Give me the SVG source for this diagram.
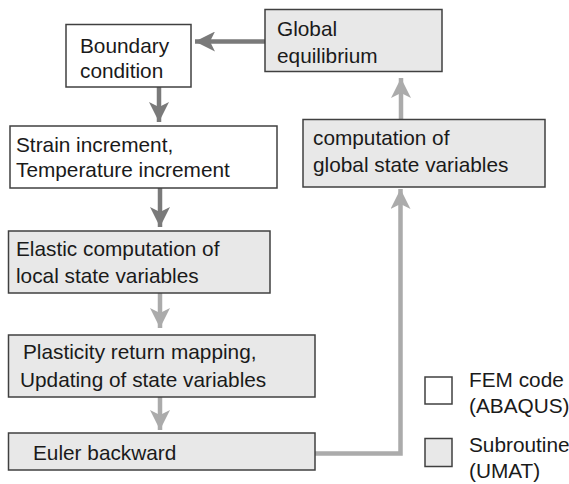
<svg xmlns="http://www.w3.org/2000/svg" width="569" height="484" viewBox="0 0 569 484">
<style>
.box{stroke:#404040;stroke-width:1.5}
.fem{fill:#ffffff}
.sub{fill:#e8e8e8}
text{font-family:"Liberation Sans",Arial,sans-serif;font-size:20.8px;fill:#1a1a1a}
.dk{stroke:#7a7a7a;stroke-width:4.5;fill:none}
.lt{stroke:#ababab;stroke-width:4.5;fill:none}
</style>
<defs>
<marker id="ad" markerUnits="userSpaceOnUse" markerWidth="20" markerHeight="20" refX="16" refY="8" orient="auto" viewBox="0 0 16 16">
<path d="M16,8 L0,0 L4,8 L0,16 Z" fill="#7a7a7a"/>
</marker>
<marker id="al" markerUnits="userSpaceOnUse" markerWidth="20" markerHeight="20" refX="16" refY="8" orient="auto" viewBox="0 0 16 16">
<path d="M16,8 L0,0 L4,8 L0,16 Z" fill="#ababab"/>
</marker>
</defs>
<g id="connectors">
<path class="dk" d="M265,41.5 L195,41.5" marker-end="url(#ad)"/>
<path class="dk" d="M159,87 L159,122" marker-end="url(#ad)"/>
<path class="dk" d="M160,188 L160,227" marker-end="url(#ad)"/>
<path class="lt" d="M160,293 L160,328" marker-end="url(#al)"/>
<path class="lt" d="M160,397 L160,430" marker-end="url(#al)"/>
<path class="lt" d="M315,453.5 L400.5,453.5 L400.5,189" marker-end="url(#al)"/>
<path class="lt" d="M401,119 L401,78" marker-end="url(#al)"/>
</g>
<g id="boundary">
<rect class="box fem" x="66" y="24.5" width="125" height="62.5"/>
<text x="80" y="53">Boundary</text>
<text x="80" y="78">condition</text>
</g>
<g id="strain">
<rect class="box fem" x="10" y="126" width="267" height="62"/>
<text x="16" y="152">Strain increment,</text>
<text x="16" y="177">Temperature increment</text>
</g>
<g id="elastic">
<rect class="box sub" x="8.5" y="231" width="261.5" height="62"/>
<text x="16" y="256">Elastic computation of</text>
<text x="16" y="283">local state variables</text>
</g>
<g id="plasticity">
<rect class="box sub" x="8.5" y="335" width="306.5" height="62"/>
<text x="23" y="359">Plasticity return mapping,</text>
<text x="20" y="387">Updating of state variables</text>
</g>
<g id="euler">
<rect class="box sub" x="8.5" y="433" width="306.5" height="37"/>
<text x="33" y="460">Euler backward</text>
</g>
<g id="global">
<rect class="box sub" x="265" y="9.5" width="177" height="62"/>
<text x="277" y="36">Global</text>
<text x="277" y="63">equilibrium</text>
</g>
<g id="computation">
<rect class="box sub" x="303" y="119.5" width="242" height="67.5"/>
<text x="313" y="145">computation of</text>
<text x="313" y="172">global state variables</text>
</g>
<g id="legend">
<rect class="box fem" x="425" y="377" width="27" height="27"/>
<text x="469" y="387">FEM code</text>
<text x="469" y="413">(ABAQUS)</text>
<rect class="box sub" x="425" y="438.5" width="27" height="28"/>
<text x="469" y="452">Subroutine</text>
<text x="469" y="478">(UMAT)</text>
</g>
</svg>
